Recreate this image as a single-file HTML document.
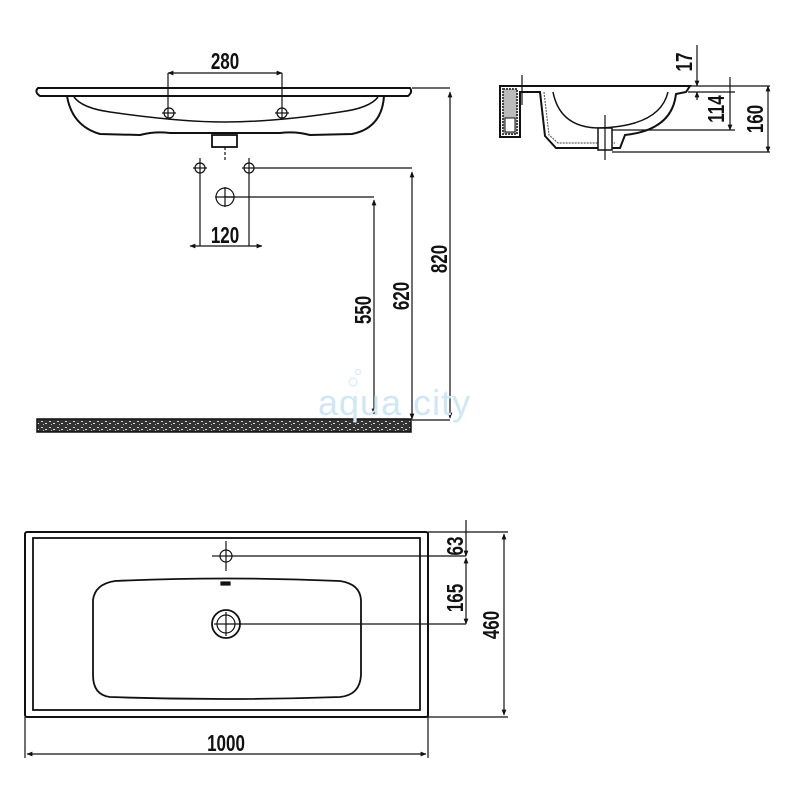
<!DOCTYPE html>
<html><head><meta charset="utf-8"><style>
html,body{margin:0;padding:0;background:#fff;width:800px;height:800px;overflow:hidden}
text{font-family:"Liberation Sans",sans-serif;font-weight:bold;fill:#111}
</style></head><body>
<svg width="800" height="800" viewBox="0 0 800 800" xmlns="http://www.w3.org/2000/svg">
<defs>
<marker id="a" viewBox="0 0 10 10" refX="9" refY="5" markerWidth="5" markerHeight="5" orient="auto-start-reverse"><path d="M0,1 L10,5 L0,9z" fill="#111"/></marker>
<pattern id="sp" width="8" height="6" patternUnits="userSpaceOnUse"><rect width="8" height="6" fill="#333"/><rect x="1" y="1" width="2" height="1" fill="#ccc"/><rect x="5" y="3" width="2" height="1" fill="#ddd"/><rect x="3" y="4" width="1" height="1" fill="#bbb"/></pattern>
</defs>
<g stroke="#111" fill="none" stroke-width="1.2">
<path d="M38,88 L410,88 Q413,92 408,96 L40,96 Q34,92 38,88z" stroke-width="2"/>
<path d="M67,96 Q72,126 100,134 L140,135 Q155,131 170,133 L280,133 Q295,131 310,135 L352,134 Q382,128 384,96" stroke-width="2"/>
<path d="M74,97 Q82,108 110,112 Q180,122 225,122 Q275,122 340,112 Q370,108 378,97" stroke-width="1.5"/>
<rect x="212" y="135" width="25" height="12" stroke-width="1.8"/>
<line x1="225" y1="147" x2="225" y2="162" stroke-dasharray="3,2"/>
<line x1="168" y1="73" x2="282" y2="73" marker-start="url(#a)" marker-end="url(#a)"/>
<line x1="168" y1="73" x2="168" y2="118"/><line x1="282" y1="73" x2="282" y2="118"/>
<circle cx="169" cy="113" r="5"/><circle cx="282" cy="113" r="5"/>
<line x1="162" y1="113" x2="176" y2="113"/><line x1="275" y1="113" x2="289" y2="113"/>
<circle cx="200" cy="168" r="5"/><circle cx="249" cy="168" r="5"/>
<line x1="200" y1="158" x2="200" y2="246"/><line x1="193" y1="168" x2="207" y2="168"/>
<line x1="249" y1="158" x2="249" y2="246"/><line x1="242" y1="168" x2="249" y2="168"/>
<circle cx="225" cy="197" r="9"/><line x1="225" y1="187" x2="225" y2="207"/><line x1="215" y1="197" x2="235" y2="197"/>
<line x1="190" y1="246" x2="262" y2="246" marker-start="url(#a)" marker-end="url(#a)"/>
<line x1="249" y1="168" x2="412" y2="168"/><line x1="412" y1="172" x2="412" y2="419" marker-start="url(#a)" marker-end="url(#a)"/>
<line x1="225" y1="197" x2="374" y2="197"/><line x1="374" y1="200" x2="374" y2="414" marker-start="url(#a)" marker-end="url(#a)"/>
<line x1="412" y1="88" x2="450" y2="88"/><line x1="450" y1="92" x2="450" y2="418" marker-start="url(#a)" marker-end="url(#a)"/>
<line x1="412" y1="420" x2="450" y2="420"/>
<!-- side section -->
<path d="M500,86 L690,86 L686,92 L676,94 Q672,130 625,135 L620,148 L556,148 L545,136 L540,92 L520,92 L520,137 L500,137z" fill="#fff" stroke-width="2"/>
<path d="M553,92 Q560,128 600,128 Q660,126 668,92" stroke-width="1.5"/>
<path d="M544,92 L549,135 L558,143 L615,143" stroke="#666" stroke-width="1.2" stroke-dasharray="2,1"/>
<path d="M503,89 L517,89 L517,134 L503,134z" fill="#bbb" stroke="#444" stroke-width="2" stroke-dasharray="2,1"/>
<rect x="505" y="118" width="10" height="14" fill="#fff" stroke-width="1"/>
<line x1="522" y1="75" x2="522" y2="105"/>
<rect x="598" y="128" width="14" height="22" fill="#fff" stroke-width="1.5"/>
<line x1="605" y1="115" x2="605" y2="160"/>
<line x1="690" y1="86" x2="770" y2="86"/><line x1="688" y1="92" x2="735" y2="92"/>
<line x1="612" y1="130" x2="735" y2="130"/><line x1="612" y1="152" x2="770" y2="152"/>
<line x1="697" y1="45" x2="697" y2="86" marker-end="url(#a)"/><line x1="697" y1="100" x2="697" y2="92" marker-end="url(#a)"/>
<line x1="730" y1="77" x2="730" y2="130" marker-end="url(#a)"/>
<line x1="768" y1="86" x2="768" y2="152" marker-start="url(#a)" marker-end="url(#a)"/>
<rect x="37" y="419" width="374" height="13" fill="url(#sp)" stroke-width="1.5"/>
<!-- plan -->
<rect x="25" y="532" width="403" height="185" rx="2" stroke-width="2"/>
<rect x="33" y="538" width="387" height="172" stroke-width="1.8"/>
<path d="M115,581 Q225,576 340,581 Q360,584 361,600 L361,675 Q360,695 340,697 Q225,701 110,697 Q93,695 93,675 L93,600 Q95,584 115,581z" stroke-width="1.8"/>
<rect x="221" y="582" width="9" height="3" fill="#111"/>
<circle cx="226" cy="556" r="6"/><line x1="226" y1="541" x2="226" y2="571"/><line x1="212" y1="556" x2="226" y2="556"/>
<circle cx="226" cy="624" r="14" stroke-width="1.8"/><circle cx="226" cy="624" r="9"/>
<line x1="226" y1="612" x2="226" y2="636"/><line x1="214" y1="624" x2="226" y2="624"/>
<line x1="226" y1="556" x2="466" y2="556"/><line x1="226" y1="624" x2="466" y2="624"/>
<line x1="466" y1="520" x2="466" y2="556" marker-end="url(#a)"/>
<line x1="466" y1="558" x2="466" y2="624" marker-start="url(#a)" marker-end="url(#a)"/>
<line x1="428" y1="532" x2="508" y2="532"/><line x1="428" y1="717" x2="508" y2="717"/>
<line x1="504" y1="534" x2="504" y2="715" marker-start="url(#a)" marker-end="url(#a)"/>
<line x1="25" y1="717" x2="25" y2="758"/><line x1="428" y1="717" x2="428" y2="758"/>
<line x1="27" y1="754" x2="426" y2="754" marker-start="url(#a)" marker-end="url(#a)"/>
</g>
<g font-size="20">
<text transform="translate(225,69) scale(0.85,1.15)" text-anchor="middle">280</text>
<text transform="translate(225,243) scale(0.85,1.15)" text-anchor="middle">120</text>
<text transform="translate(226,751) scale(0.85,1.15)" text-anchor="middle">1000</text>
<text transform="translate(371,310) rotate(-90) scale(0.85,1.15)" text-anchor="middle">550</text>
<text transform="translate(409,296) rotate(-90) scale(0.85,1.15)" text-anchor="middle">620</text>
<text transform="translate(447,259) rotate(-90) scale(0.85,1.15)" text-anchor="middle">820</text>
<text transform="translate(692,62) rotate(-90) scale(0.85,1.15)" text-anchor="middle">17</text>
<text transform="translate(724,109) rotate(-90) scale(0.85,1.15)" text-anchor="middle">114</text>
<text transform="translate(763,119) rotate(-90) scale(0.85,1.15)" text-anchor="middle">160</text>
<text transform="translate(463,546) rotate(-90) scale(0.85,1.15)" text-anchor="middle">63</text>
<text transform="translate(463,598) rotate(-90) scale(0.85,1.15)" text-anchor="middle">165</text>
<text transform="translate(499,625) rotate(-90) scale(0.85,1.15)" text-anchor="middle">460</text>
</g>
<text x="318" y="415" font-size="36" letter-spacing="1" style="font-weight:normal;fill:#cfe6f5">aqua city</text>
<circle cx="353" cy="382" r="4" fill="none" stroke="#cfe6f5"/><circle cx="358" cy="372" r="2.5" fill="none" stroke="#cfe6f5"/>
</svg>
</body></html>
